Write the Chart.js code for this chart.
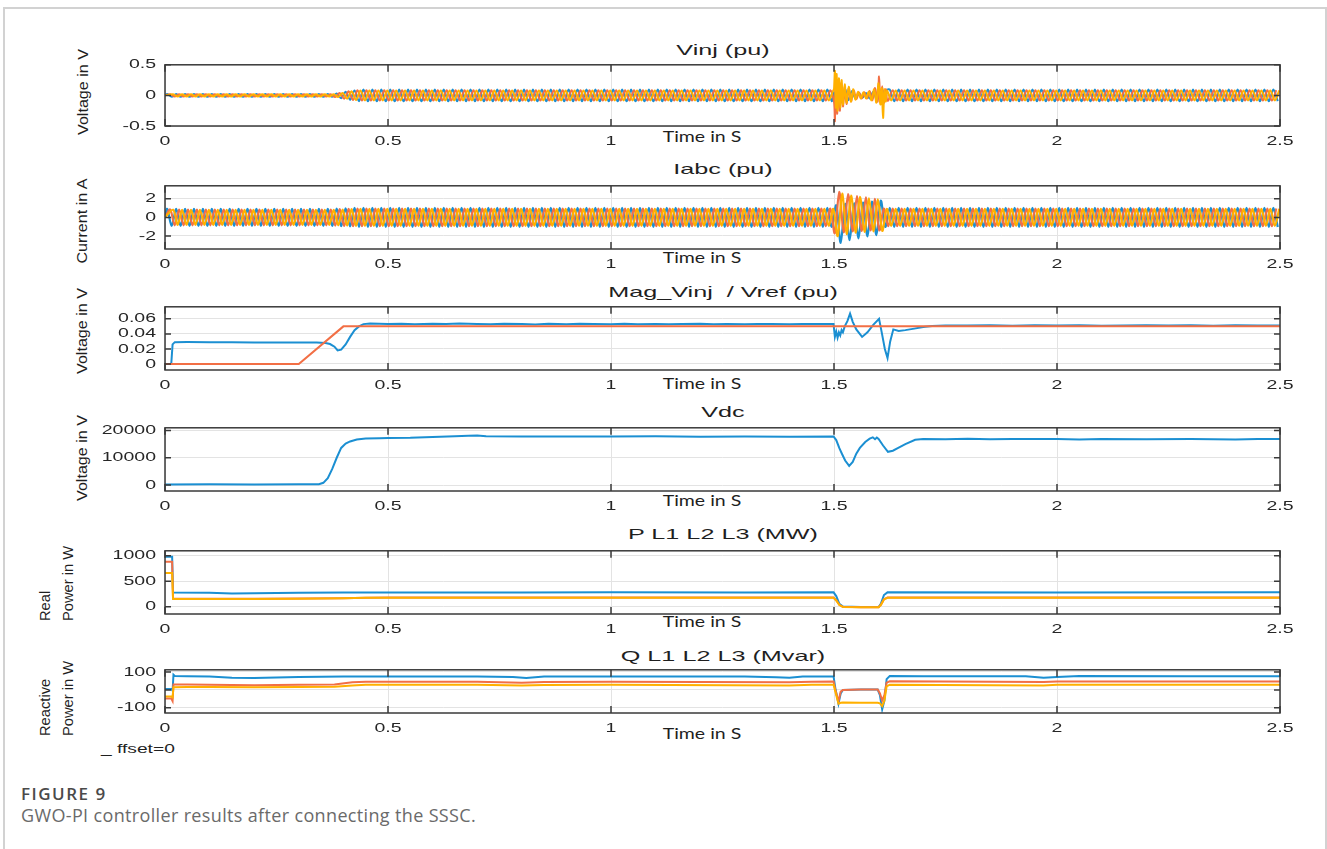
<!DOCTYPE html>
<html lang="en">
<head>
<meta charset="utf-8">
<title>GWO-PI controller results after connecting the SSSC</title>
<script src="https://cdn.jsdelivr.net/npm/chart.js@4.4.1/dist/chart.umd.min.js"></script>
<style>
html,body{margin:0;padding:0;background:#fff;}
body{position:relative;width:1327px;height:849px;overflow:hidden;font-family:"Liberation Sans",Arial,Helvetica,sans-serif;}
#frame{position:absolute;left:3px;top:7px;width:1324px;height:900px;border:2px solid #d2d2d2;border-bottom:none;box-sizing:border-box;}
canvas.plot{position:absolute;left:0;}
.txt{position:absolute;white-space:nowrap;color:#1f1f1f;line-height:1;}
.title{font-size:15px;transform:translate(-50%,-50%) scaleX(1.68);}
.time{font-family:Lato,"Open Sans",sans-serif;font-size:15px;transform:translate(-50%,-50%) scaleX(1.3);}
.ylab{font-size:14px;transform:translate(-50%,-50%) rotate(-90deg) scaleX(1.15);}
.ylab2{font-size:14px;transform-origin:0 0;transform:rotate(-90deg) translateY(-50%) scaleX(1.05);}
.note{font-size:12px;transform-origin:0 50%;transform:translateY(-50%) scaleX(1.6);}
.figno{font-family:"Open Sans",Lato,sans-serif;font-weight:600;font-size:17px;letter-spacing:1.5px;color:#4a4a4a;transform:translateY(-50%);}
.caption{font-family:"Open Sans",Lato,sans-serif;font-size:18px;letter-spacing:0.35px;color:#6a6a6a;transform:translateY(-50%);}
</style>
</head>
<body>
<div id="frame"></div>

<div class="txt title" style="left:723px;top:49px">Vinj (pu)</div>
<div class="txt title" style="left:723px;top:168px">Iabc (pu)</div>
<div class="txt title" style="left:723px;top:291px">Mag_Vinj &nbsp;/ Vref (pu)</div>
<div class="txt title" style="left:723px;top:411px">Vdc</div>
<div class="txt title" style="left:723px;top:533px">P L1 L2 L3 (MW)</div>
<div class="txt title" style="left:723px;top:655px">Q L1 L2 L3 (Mvar)</div>

<div class="txt time" style="left:702px;top:136px">Time in S</div>
<div class="txt time" style="left:702px;top:257px">Time in S</div>
<div class="txt time" style="left:702px;top:383px">Time in S</div>
<div class="txt time" style="left:702px;top:500px">Time in S</div>
<div class="txt time" style="left:702px;top:621px">Time in S</div>
<div class="txt time" style="left:702px;top:733px">Time in S</div>

<div class="txt ylab" style="left:83px;top:92px">Voltage in V</div>
<div class="txt ylab" style="left:82px;top:221px">Current in A</div>
<div class="txt ylab" style="left:82px;top:331px">Voltage in V</div>
<div class="txt ylab" style="left:82px;top:458px">Voltage in V</div>
<div class="txt ylab2" style="left:45px;top:621px">Real</div>
<div class="txt ylab2" style="left:68px;top:621px">Power in W</div>
<div class="txt ylab2" style="left:45px;top:736px">Reactive</div>
<div class="txt ylab2" style="left:68px;top:736px">Power in W</div>

<div class="txt note" style="left:101px;top:749px">_ ffset=0</div>
<div class="txt figno" style="left:21px;top:793px">FIGURE 9</div>
<div class="txt caption" style="left:21px;top:815px">GWO-PI controller results after connecting the SSSC.</div>

<script>
// ---------------- DATA ----------------
const X_TICK_VALUES = [0, 0.5, 1, 1.5, 2, 2.5];
const X_TICK_LABELS = ['0', '0.5', '1', '1.5', '2', '2.5'];

// Y tick values / labels per panel
const vinjTicks = [-0.5, 0, 0.5];         const vinjTickLabels = ['-0.5', '0', '0.5'];
const iabcTicks = [-2, 0, 2];             const iabcTickLabels = ['-2', '0', '2'];
const magTicks  = [0, 0.02, 0.04, 0.06];  const magTickLabels  = ['0', '0.02', '0.04', '0.06'];
const vdcTicks  = [0, 10000, 20000];      const vdcTickLabels  = ['0', '10000', '20000'];
const pTicks    = [0, 500, 1000];         const pTickLabels    = ['0', '500', '1000'];
const qTicks    = [-100, 0, 100];         const qTickLabels    = ['-100', '0', '100'];

// Vinj (pu): peak amplitude of each phase, stepwise in time
const vinjEnvTime = [0,     0.380, 0.390, 0.400, 0.410, 0.420, 0.430];
const vinjEnvBlue = [0.024, 0.030, 0.045, 0.060, 0.072, 0.082, 0.095];
const vinjEnvRed  = [0.020, 0.027, 0.040, 0.055, 0.066, 0.075, 0.085];
const vinjEnvYel  = [0.020, 0.027, 0.040, 0.055, 0.066, 0.075, 0.082];
const vinjFaultWindow = [1.5, 1.62];
// Vinj fault transient [time s, value pu]
const vinjFaultYel = [[1.500,0.10],[1.502,0.40],[1.504,-0.20],[1.506,0.35],[1.508,-0.25],[1.511,0.28],[1.514,-0.20],[1.517,0.25],[1.520,-0.15],[1.524,0.18],[1.528,-0.12],[1.533,0.14],[1.538,-0.10],[1.543,0.10],[1.548,-0.07],[1.554,0.06],[1.560,-0.05],[1.566,0.05],[1.572,-0.05],[1.578,0.06],[1.584,-0.08],[1.590,0.10],[1.595,-0.12],[1.600,0.20],[1.604,-0.15],[1.607,0.12],[1.610,-0.37],[1.613,0.10],[1.616,-0.10],[1.619,0.08]];
const vinjFaultRed = [[1.500,-0.10],[1.502,-0.42],[1.504,0.30],[1.507,-0.30],[1.510,0.25],[1.513,-0.25],[1.516,0.20],[1.520,-0.18],[1.524,0.14],[1.528,-0.14],[1.533,0.12],[1.538,-0.10],[1.544,0.08],[1.550,-0.06],[1.556,0.05],[1.562,-0.05],[1.568,0.05],[1.574,-0.05],[1.580,0.07],[1.586,-0.08],[1.592,0.12],[1.598,-0.10],[1.601,0.31],[1.604,-0.12],[1.608,0.15],[1.612,-0.12],[1.616,0.10],[1.619,-0.08]];
const vinjFaultBlue = [[1.500,0.05],[1.503,-0.20],[1.506,0.20],[1.510,-0.15],[1.514,0.15],[1.519,-0.12],[1.525,0.10],[1.532,-0.08],[1.540,0.07],[1.548,-0.05],[1.556,0.04],[1.564,-0.04],[1.572,0.04],[1.580,-0.05],[1.588,0.06],[1.596,-0.08],[1.600,0.15],[1.604,-0.10],[1.609,0.08],[1.614,-0.08],[1.619,0.09]];

// Iabc (pu): peak amplitude per phase, stepwise
const iabcEnvTime = [0,    0.380, 0.400, 0.420];
const iabcEnvBlue = [0.92, 0.95,  0.98,  1.02];
const iabcEnvRed  = [0.85, 0.88,  0.92,  0.95];
const iabcEnvYel  = [0.82, 0.85,  0.88,  0.92];
const iabcFaultWindow = [1.5, 1.61];
// Iabc fault: positive / negative peaks of each cycle inside the fault window
const iabcFaultPosBlue = [1.30, 1.45, 1.50, 1.60, 1.70, 1.80];
const iabcFaultNegBlue = [-2.75, -2.45, -2.25, -2.05, -1.90, -1.75];
const iabcFaultPosRed  = [2.75, 2.50, 2.30, 2.15, 2.00, 1.90];
const iabcFaultNegRed  = [-1.70, -1.60, -1.50, -1.45, -1.40, -1.40];
const iabcFaultPosYel  = [2.55, 2.35, 2.20, 2.05, 1.95, 1.85];
const iabcFaultNegYel  = [-2.00, -1.80, -1.65, -1.55, -1.50, -1.45];

// Mag_Vinj / Vref (pu)  [time s, value]
const magVinj = [[0,0],[0.014,0],[0.017,0.026],[0.022,0.029],[0.05,0.0292],[0.1,0.029],[0.15,0.0288],[0.2,0.0287],[0.25,0.0286],[0.3,0.0287],[0.34,0.0284],[0.36,0.0278],[0.37,0.0265],[0.38,0.023],[0.387,0.018],[0.395,0.019],[0.405,0.026],[0.415,0.036],[0.425,0.045],[0.435,0.05],[0.445,0.053],[0.46,0.0538],[0.48,0.0535],[0.5,0.053],[0.53,0.0536],[0.56,0.0529],[0.6,0.0534],[0.63,0.053],[0.66,0.0537],[0.7,0.0531],[0.73,0.0528],[0.76,0.0535],[0.8,0.053],[0.83,0.0526],[0.86,0.0534],[0.9,0.0529],[0.93,0.0535],[0.96,0.053],[1.0,0.0527],[1.03,0.0534],[1.06,0.0529],[1.1,0.0533],[1.13,0.0528],[1.16,0.0531],[1.2,0.0534],[1.23,0.0528],[1.26,0.0532],[1.3,0.0529],[1.33,0.0533],[1.36,0.053],[1.4,0.0528],[1.43,0.0532],[1.46,0.053],[1.499,0.053],[1.502,0.036],[1.505,0.043],[1.508,0.035],[1.511,0.042],[1.514,0.038],[1.517,0.045],[1.52,0.042],[1.524,0.05],[1.53,0.057],[1.536,0.067],[1.542,0.056],[1.55,0.046],[1.563,0.036],[1.575,0.042],[1.588,0.052],[1.601,0.06],[1.607,0.042],[1.614,0.02],[1.62,0.008],[1.626,0.03],[1.633,0.046],[1.645,0.044],[1.66,0.045],[1.68,0.047],[1.7,0.049],[1.72,0.0505],[1.75,0.0512],[1.8,0.051],[1.85,0.0516],[1.9,0.0509],[1.95,0.0514],[2.0,0.051],[2.05,0.0515],[2.1,0.0509],[2.15,0.0513],[2.2,0.0516],[2.25,0.051],[2.3,0.0514],[2.35,0.0509],[2.4,0.0515],[2.45,0.0512],[2.5,0.0513]];
const vref = [[0,0],[0.3,0],[0.4,0.05],[2.5,0.05]];

// Vdc (V)
const vdc = [[0,200],[0.1,250],[0.2,200],[0.3,250],[0.345,300],[0.355,800],[0.365,2500],[0.375,5900],[0.385,10000],[0.395,13600],[0.405,15200],[0.415,16000],[0.43,16700],[0.45,17100],[0.48,17200],[0.5,17300],[0.55,17350],[0.6,17600],[0.65,17900],[0.68,18100],[0.7,18200],[0.72,17900],[0.8,17800],[0.9,17850],[1.0,17800],[1.1,17900],[1.2,17750],[1.3,17800],[1.4,17750],[1.499,17800],[1.505,16500],[1.512,13500],[1.518,11400],[1.525,9000],[1.534,7000],[1.542,8500],[1.55,11500],[1.558,13600],[1.57,15800],[1.58,17000],[1.587,17500],[1.592,16800],[1.596,17400],[1.6,16900],[1.61,14500],[1.621,12200],[1.632,12600],[1.644,13600],[1.66,15000],[1.682,16600],[1.7,16900],[1.75,16800],[1.8,17000],[1.85,16800],[1.9,16900],[1.95,16850],[2.0,16900],[2.05,16750],[2.1,16900],[2.2,16800],[2.3,16900],[2.4,16700],[2.45,16900],[2.5,16900]];

// P L1 L2 L3 (MW)
const pL1 = [[0,980],[0.016,980],[0.018,280],[0.1,275],[0.15,262],[0.2,266],[0.3,275],[0.4,280],[0.5,282],[0.8,278],[1.0,283],[1.3,282],[1.499,283],[1.505,210],[1.512,60],[1.52,5],[1.56,-5],[1.6,-3],[1.605,60],[1.612,230],[1.62,283],[2.0,278],[2.5,283]];
const pL2 = [[0,880],[0.016,880],[0.018,165],[0.1,160],[0.2,158],[0.3,163],[0.4,170],[0.45,178],[0.5,180],[1.0,180],[1.499,180],[1.505,130],[1.512,40],[1.52,0],[1.56,-8],[1.6,-6],[1.605,40],[1.612,150],[1.62,180],[2.5,180]];
const pL3 = [[0,660],[0.016,660],[0.018,155],[0.1,152],[0.2,152],[0.3,158],[0.4,168],[0.45,176],[0.5,178],[1.0,178],[1.499,178],[1.505,125],[1.512,35],[1.52,-3],[1.56,-10],[1.6,-8],[1.605,35],[1.612,145],[1.62,178],[2.5,178]];

// Q L1 L2 L3 (Mvar)
const qL1 = [[0,5],[0.014,5],[0.017,-5],[0.019,85],[0.022,78],[0.05,76],[0.1,74],[0.15,67],[0.2,66],[0.3,72],[0.4,74],[0.5,75],[0.7,75],[0.78,72],[0.81,66],[0.85,74],[1.0,75],[1.3,75],[1.37,70],[1.4,67],[1.43,74],[1.499,75],[1.503,10],[1.51,-77],[1.515,-20],[1.52,0],[1.56,2],[1.598,2],[1.603,-30],[1.608,-109],[1.613,-60],[1.618,60],[1.625,77],[1.7,76],[1.93,76],[1.97,67],[2.0,72],[2.05,77],[2.3,76],[2.5,76]];
const qL2 = [[0,-48],[0.014,-48],[0.017,-62],[0.019,30],[0.05,30],[0.1,29],[0.2,26],[0.3,28],[0.38,30],[0.42,42],[0.45,45],[0.7,45],[0.8,40],[0.85,44],[1.0,45],[1.4,43],[1.45,45],[1.499,46],[1.503,0],[1.51,-64],[1.515,-10],[1.52,0],[1.56,2],[1.598,2],[1.603,-20],[1.608,-60],[1.613,-30],[1.618,40],[1.625,48],[1.97,44],[2.0,47],[2.5,47]];
const qL3 = [[0,-37],[0.014,-37],[0.017,-42],[0.019,15],[0.05,16],[0.1,16],[0.2,14],[0.3,16],[0.38,18],[0.42,25],[0.45,28],[0.7,28],[0.8,24],[0.85,27],[1.0,28],[1.4,25],[1.45,28],[1.499,29],[1.503,-10],[1.51,-77],[1.515,-72],[1.52,-70],[1.56,-72],[1.598,-72],[1.603,-75],[1.608,-90],[1.613,-60],[1.618,20],[1.625,29],[1.97,25],[2.0,28],[2.5,28]];

// ---------------- STYLE ----------------
const C_BLUE = '#1b8fd2', C_RED = '#f26f45', C_YEL = '#ffb000';
const TXT = '#262626', GRID = '#e3e3e3', FRAME = '#3a3a3a';
const TICK_FONT = '"Liberation Sans", Arial, sans-serif';
const TICK_SX = 1.5;
const PERIOD = 0.02; // 50 Hz network

// ---------------- HELPERS ----------------
function stepValue(ts, vs, t) { let v = vs[0]; for (let i = 0; i < ts.length; i++) { if (t >= ts[i]) v = vs[i]; } return v; }
const toXY = arr => arr.map(p => ({x: p[0], y: p[1]}));

// three-phase waveform drawn through its half-cycle peaks (read envelopes)
function phaseWave(k, envT, envA, win, faultPos, faultNeg, faultPairs) {
  const pts = [{x: 0, y: 0}];
  const shift = k * PERIOD / 3;
  for (let n = 0; ; n++) {
    const t = shift + PERIOD / 4 + n * PERIOD / 2;
    if (t > 2.5) break;
    const s = n % 2 === 0 ? 1 : -1;
    if (t >= win[0] && t < win[1]) {
      if (faultPairs) continue;
      const c = Math.min(faultPos.length - 1, Math.floor((t - win[0]) / PERIOD));
      pts.push({x: t, y: s > 0 ? faultPos[c] : faultNeg[c]});
    } else {
      pts.push({x: t, y: s * stepValue(envT, envA, t)});
    }
  }
  if (faultPairs) { faultPairs.forEach(p => pts.push({x: p[0], y: p[1]})); pts.sort((a, b) => a.x - b.x); }
  return pts;
}

// ---------------- PLUGINS ----------------
const stretchText = {
  id: 'stretchText',
  beforeInit(chart) {
    const ctx = chart.ctx;
    const orig = CanvasRenderingContext2D.prototype.fillText;
    ctx.fillText = function (s, x, y) { this.save(); this.translate(x, y); this.scale(TICK_SX, 1); orig.call(this, s, 0, 0); this.restore(); };
  }
};
const frameTicks = {
  id: 'frameTicks',
  afterDraw(chart) {
    const {ctx, chartArea: a, scales: {x, y}} = chart;
    ctx.save();
    ctx.strokeStyle = FRAME; ctx.lineWidth = 1.5;
    ctx.strokeRect(a.left, a.top, a.right - a.left, a.bottom - a.top);
    ctx.beginPath();
    x.ticks.forEach(t => { const px = x.getPixelForValue(t.value); ctx.moveTo(px, a.bottom); ctx.lineTo(px, a.bottom - 7); ctx.moveTo(px, a.top); ctx.lineTo(px, a.top + 7); });
    y.ticks.forEach(t => { const py = y.getPixelForValue(t.value); ctx.moveTo(a.left, py); ctx.lineTo(a.left + 6, py); ctx.moveTo(a.right, py); ctx.lineTo(a.right - 6, py); });
    ctx.stroke();
    ctx.restore();
  }
};

function makePlot(cfg) {
  const PAD_T = 10, XAX_H = 32;
  const h = cfg.bottom - cfg.top;
  const cv = document.createElement('canvas');
  cv.className = 'plot';
  cv.width = 1327; cv.height = PAD_T + h + XAX_H;
  cv.style.top = (cfg.top - PAD_T) + 'px';
  cv.style.width = '1327px'; cv.style.height = cv.height + 'px';
  document.body.appendChild(cv);
  return new Chart(cv.getContext('2d'), {
    type: 'line',
    data: {datasets: cfg.datasets.map(d => ({
      label: d.label, data: d.data, borderColor: d.color, backgroundColor: d.color,
      borderWidth: d.width || 2, pointRadius: 0, tension: d.tension || 0, order: d.order, fill: false
    }))},
    options: {
      responsive: false, animation: false, events: [], parsing: false, normalized: true,
      layout: {padding: {top: PAD_T, right: 47, left: 0, bottom: 0}},
      plugins: {legend: {display: false}, tooltip: {enabled: false}, title: {display: false}},
      scales: {
        x: {
          type: 'linear', min: 0, max: 2.5,
          afterBuildTicks: s => { s.ticks = X_TICK_VALUES.map(v => ({value: v})); },
          afterFit: s => { s.height = XAX_H; },
          ticks: {autoSkip: false, maxRotation: 0, minRotation: 0, padding: 8, color: TXT,
                  font: {family: TICK_FONT, size: 13}, callback: (v, i) => X_TICK_LABELS[i]},
          grid: {color: GRID, lineWidth: 1, drawTicks: false}, border: {display: false}
        },
        y: {
          type: 'linear', min: cfg.yMin, max: cfg.yMax,
          afterBuildTicks: s => { s.ticks = cfg.yTicks.map(v => ({value: v})); },
          afterFit: s => { s.width = 165; },
          ticks: {autoSkip: false, padding: 9, color: TXT,
                  font: {family: TICK_FONT, size: 13}, callback: (v, i) => cfg.yLabels[i]},
          grid: {color: GRID, lineWidth: 1, drawTicks: false}, border: {display: false}
        }
      }
    },
    plugins: [stretchText, frameTicks]
  });
}

// ---------------- PANELS ----------------
makePlot({top: 58, bottom: 126, yMin: -0.5, yMax: 0.5, yTicks: vinjTicks, yLabels: vinjTickLabels, datasets: [
  {label: 'Vinj a', color: C_BLUE, order: 2, width: 2, tension: 0.3, data: phaseWave(0, vinjEnvTime, vinjEnvBlue, vinjFaultWindow, null, null, vinjFaultBlue)},
  {label: 'Vinj b', color: C_RED,  order: 1, width: 2, tension: 0.3, data: phaseWave(1, vinjEnvTime, vinjEnvRed,  vinjFaultWindow, null, null, vinjFaultRed)},
  {label: 'Vinj c', color: C_YEL,  order: 0, width: 2, tension: 0.3, data: phaseWave(2, vinjEnvTime, vinjEnvYel,  vinjFaultWindow, null, null, vinjFaultYel)}
]});
makePlot({top: 179, bottom: 249, yMin: -3.4, yMax: 3.4, yTicks: iabcTicks, yLabels: iabcTickLabels, datasets: [
  {label: 'Ia', color: C_BLUE, order: 2, width: 2.2, tension: 0.3, data: phaseWave(0, iabcEnvTime, iabcEnvBlue, iabcFaultWindow, iabcFaultPosBlue, iabcFaultNegBlue)},
  {label: 'Ib', color: C_RED,  order: 1, width: 2.2, tension: 0.3, data: phaseWave(1, iabcEnvTime, iabcEnvRed,  iabcFaultWindow, iabcFaultPosRed,  iabcFaultNegRed)},
  {label: 'Ic', color: C_YEL,  order: 0, width: 2.2, tension: 0.3, data: phaseWave(2, iabcEnvTime, iabcEnvYel,  iabcFaultWindow, iabcFaultPosYel,  iabcFaultNegYel)}
]});
makePlot({top: 300, bottom: 370, yMin: -0.008, yMax: 0.076, yTicks: magTicks, yLabels: magTickLabels, datasets: [
  {label: 'Mag_Vinj', color: C_BLUE, order: 1, data: toXY(magVinj)},
  {label: 'Vref', color: C_RED, order: 0, data: toXY(vref)}
]});
makePlot({top: 421, bottom: 491, yMin: -2200, yMax: 21000, yTicks: vdcTicks, yLabels: vdcTickLabels, datasets: [
  {label: 'Vdc', color: C_BLUE, order: 0, data: toXY(vdc)}
]});
makePlot({top: 544, bottom: 614, yMin: -140, yMax: 1095, yTicks: pTicks, yLabels: pTickLabels, datasets: [
  {label: 'P L1', color: C_BLUE, order: 2, data: toXY(pL1)},
  {label: 'P L2', color: C_RED,  order: 1, data: toXY(pL2)},
  {label: 'P L3', color: C_YEL,  order: 0, data: toXY(pL3)}
]});
makePlot({top: 663, bottom: 713, yMin: -129, yMax: 112, yTicks: qTicks, yLabels: qTickLabels, datasets: [
  {label: 'Q L1', color: C_BLUE, order: 2, data: toXY(qL1)},
  {label: 'Q L2', color: C_RED,  order: 1, data: toXY(qL2)},
  {label: 'Q L3', color: C_YEL,  order: 0, data: toXY(qL3)}
]});
</script>
</body>
</html>
